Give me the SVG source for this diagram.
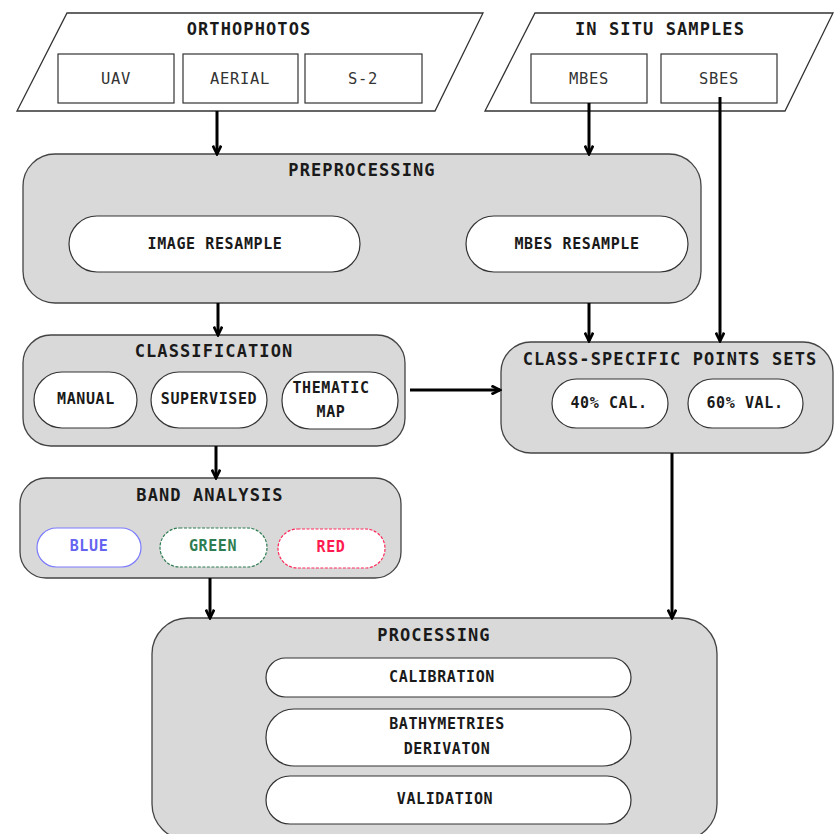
<svg xmlns="http://www.w3.org/2000/svg" width="835" height="834" viewBox="0 0 835 834">
<style>
.bg{fill:#ffffff}
.para{fill:#ffffff;stroke:#333;stroke-width:1.3}
.box{fill:#ffffff;stroke:#333;stroke-width:1.2}
.cont{fill:#d9d9d9;stroke:#444;stroke-width:1.3}
.pill{fill:#ffffff;stroke:#333;stroke-width:1.2}
text{font-family:"DejaVu Sans Mono","Liberation Mono",monospace;text-anchor:middle;fill:#1a1a1a}
.title{font-size:17px;font-weight:bold;letter-spacing:1.1px}
.item{font-size:15.5px;letter-spacing:0.7px;fill:#333}
.ptxt{font-size:15px;font-weight:bold;letter-spacing:0.6px}
.arr{stroke:#000;stroke-width:3;fill:none;marker-end:url(#ah)}
</style>
<defs>
<marker id="ah" viewBox="0 0 12 10" refX="10.5" refY="5" markerWidth="12" markerHeight="10" markerUnits="userSpaceOnUse" orient="auto">
<path d="M2,0.8 L10.5,5 L2,9.2" fill="none" stroke="#000" stroke-width="2.8" stroke-linejoin="miter"/>
</marker>
</defs>
<rect class="bg" x="0" y="0" width="835" height="834"/>

<g id="orthophotos">
<polygon class="para" points="67,13 483,13 435,111 17,111"/>
<text class="title" x="249" y="35">ORTHOPHOTOS</text>
<rect class="box" x="58" y="54" width="116" height="49"/>
<text class="item" x="116" y="84">UAV</text>
<rect class="box" x="183" y="54" width="115" height="49"/>
<text class="item" x="240" y="84">AERIAL</text>
<rect class="box" x="305" y="54" width="117" height="49"/>
<text class="item" x="363" y="84">S-2</text>
</g>

<g id="in-situ">
<polygon class="para" points="535,13 833,13 785,111 485,111"/>
<text class="title" x="660" y="35">IN SITU SAMPLES</text>
<rect class="box" x="531" y="54" width="116" height="49"/>
<text class="item" x="589" y="84">MBES</text>
<rect class="box" x="661" y="54" width="116" height="49"/>
<text class="item" x="719" y="84">SBES</text>
</g>

<g id="preprocessing">
<rect class="cont" x="23" y="154" width="678" height="149" rx="32"/>
<text class="title" x="362" y="176">PREPROCESSING</text>
<rect class="pill" x="69" y="216" width="291" height="56" rx="28"/>
<text class="ptxt" x="215" y="249">IMAGE RESAMPLE</text>
<rect class="pill" x="466" y="216" width="222" height="56" rx="28"/>
<text class="ptxt" x="577" y="249">MBES RESAMPLE</text>
</g>

<g id="classification">
<rect class="cont" x="23" y="335" width="382" height="111" rx="28"/>
<text class="title" x="214" y="357">CLASSIFICATION</text>
<rect class="pill" x="34" y="372" width="103" height="56" rx="28"/>
<text class="ptxt" x="86" y="404">MANUAL</text>
<rect class="pill" x="151" y="372" width="116" height="56" rx="28"/>
<text class="ptxt" x="209" y="404">SUPERVISED</text>
<rect class="pill" x="282" y="372" width="116" height="57" rx="28"/>
<text class="ptxt" x="331" y="393">THEMATIC</text>
<text class="ptxt" x="331" y="417">MAP</text>
</g>

<g id="class-specific">
<rect class="cont" x="501" y="342" width="332" height="111" rx="30"/>
<text class="title" x="670" y="365">CLASS-SPECIFIC POINTS SETS</text>
<rect class="pill" x="552" y="379" width="116" height="49" rx="24.5"/>
<text class="ptxt" x="609" y="408">40% CAL.</text>
<rect class="pill" x="688" y="379" width="115" height="49" rx="24.5"/>
<text class="ptxt" x="745" y="408">60% VAL.</text>
</g>

<g id="band-analysis">
<rect class="cont" x="20" y="478" width="381" height="100" rx="26"/>
<text class="title" x="210" y="501">BAND ANALYSIS</text>
<rect x="37" y="528" width="104" height="39" rx="19.5" fill="#fff" stroke="#7b7bff" stroke-width="1.2"/>
<text class="ptxt" x="89" y="551" style="fill:#6464f0">BLUE</text>
<rect x="160" y="528" width="107" height="39" rx="19.5" fill="#fff" stroke="#2e7d52" stroke-width="1.2" stroke-dasharray="3 1.5"/>
<text class="ptxt" x="213" y="551" style="fill:#2e7d52">GREEN</text>
<rect x="278" y="529" width="107" height="39" rx="19.5" fill="#fff" stroke="#ff2a5a" stroke-width="1.2" stroke-dasharray="3 1.5"/>
<text class="ptxt" x="331" y="552" style="fill:#ff1a50">RED</text>
</g>

<g id="processing">
<rect class="cont" x="152" y="618" width="565" height="222" rx="36"/>
<text class="title" x="434" y="641">PROCESSING</text>
<rect class="pill" x="266" y="658" width="365" height="39" rx="19.5"/>
<text class="ptxt" x="442" y="682">CALIBRATION</text>
<rect class="pill" x="266" y="709" width="365" height="57" rx="28"/>
<text class="ptxt" x="447" y="729">BATHYMETRIES</text>
<text class="ptxt" x="447" y="754">DERIVATON</text>
<rect class="pill" x="266" y="776" width="365" height="48" rx="24"/>
<text class="ptxt" x="445" y="804">VALIDATION</text>
</g>

<g id="connectors">
<line class="arr" x1="217" y1="111" x2="217" y2="154"/>
<line class="arr" x1="589" y1="103" x2="589" y2="154"/>
<line class="arr" x1="218" y1="303" x2="218" y2="335"/>
<line class="arr" x1="589" y1="303" x2="589" y2="341"/>
<line class="arr" x1="720" y1="97" x2="720" y2="341"/>
<line class="arr" x1="410" y1="390" x2="500" y2="390"/>
<line class="arr" x1="216" y1="446" x2="216" y2="478"/>
<line class="arr" x1="210" y1="578" x2="210" y2="618"/>
<line class="arr" x1="672" y1="453" x2="672" y2="618"/>
</g>
</svg>
